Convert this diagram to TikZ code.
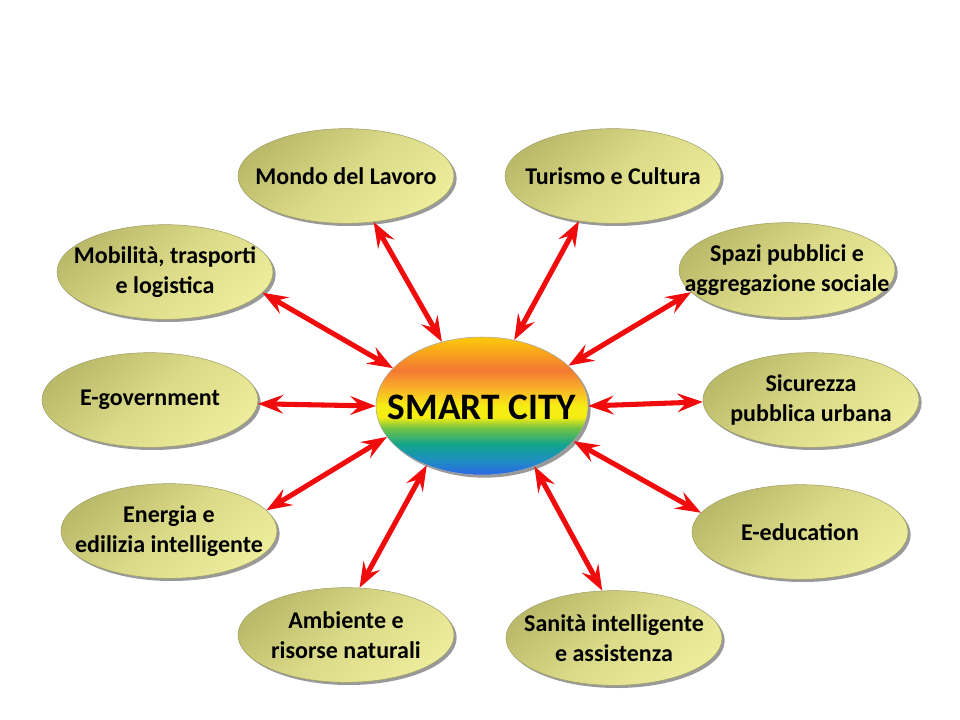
\documentclass[tikz,border=0pt]{standalone}
\usepackage{fontspec}
\setmainfont{Carlito}
\usetikzlibrary{arrows.meta,shapes.geometric,shadows}
\definecolor{satDark}{HTML}{BABA6A}
\definecolor{satMid}{HTML}{DADA88}
\definecolor{satLight}{HTML}{ECEC9C}
\definecolor{satEdge}{HTML}{A0A068}
\definecolor{linkRed}{HTML}{F00C0C}
\definecolor{rbBlue}{HTML}{2D66E6}
\definecolor{rbBlueB}{HTML}{1E8CC4}
\definecolor{rbTeal}{HTML}{12A48E}
\definecolor{rbGreen}{HTML}{70C244}
\definecolor{rbYellow}{HTML}{F6EE12}
\definecolor{rbYO}{HTML}{F9B428}
\definecolor{rbOrange}{HTML}{F47832}
\definecolor{rbGold}{HTML}{FDCA0A}
\pgfdeclareverticalshading{rainbow}{100bp}{color(0bp)=(rbBlue); color(25bp)=(rbBlue); color(30bp)=(rbBlueB); color(36bp)=(rbTeal); color(42bp)=(rbGreen); color(46bp)=(rbYellow); color(50bp)=(rbYellow); color(56bp)=(rbYO); color(63bp)=(rbOrange); color(75bp)=(rbGold); color(100bp)=(rbGold)}
\begin{document}
\begin{tikzpicture}[x=0.75pt,y=-0.75pt,
  sat/.style={ellipse, minimum width=162pt, minimum height=71pt, inner sep=0pt,
    top color=satDark, bottom color=satLight, middle color=satMid, shading angle=40,
    draw=satEdge, line width=0.4pt,
    drop shadow={shadow xshift=2pt, shadow yshift=-2pt, fill=black, opacity=0.4}},
  hub/.style={ellipse, minimum width=159pt, minimum height=103.5pt, inner sep=0pt,
    shading=rainbow, draw=gray!70, line width=0.4pt,
    drop shadow={shadow xshift=2pt, shadow yshift=-2pt, fill=black, opacity=0.4}},
  lbl/.style={align=center, font=\fontsize{18}{22}\selectfont\bfseries, text=black, inner sep=0pt},
  hublbl/.style={font=\fontsize{28}{33}\selectfont\bfseries, text=black, inner sep=0pt},
  link/.style={draw=linkRed, line width=3.8pt, {Stealth[length=19pt,width=14pt,inset=7pt]}-{Stealth[length=19pt,width=14pt,inset=7pt]}}
]
\fill[white] (0,0) rectangle (960,720);
\useasboundingbox (0,0) rectangle (960,720);

\node[hub] (city) at (482,406) {};
\node[hublbl] (cityT) at (482,407) {SMART CITY};

\node[sat] (mondo) at (346,176) {};
\node[lbl] (mondoT) at (mondo) {Mondo del Lavoro};
\node[sat] (turismo) at (613,176) {};
\node[lbl] (turismoT) at (turismo) {Turismo e Cultura};
\node[sat] (mobil) at (165,272) {};
\node[lbl] (mobilT) at (mobil) {Mobilità, trasporti\\e logistica};
\node[sat] (spazi) at (787,270) {};
\node[lbl] (spaziT) at (spazi) {Spazi pubblici e\\aggregazione sociale};
\node[sat] (egov) at (150,400) {};
\node[lbl] (egovT) at (egov) {E-government};
\node[sat] (sicur) at (811,400) {};
\node[lbl] (sicurT) at (sicur) {Sicurezza\\pubblica urbana};
\node[sat] (energia) at (169,531) {};
\node[lbl] (energiaT) at (energia) {Energia e\\edilizia intelligente};
\node[sat] (eedu) at (800,532) {};
\node[lbl] (eeduT) at (eedu) {E-education};
\node[sat] (ambiente) at (346,635) {};
\node[lbl] (ambienteT) at (ambiente) {Ambiente e\\risorse naturali};
\node[sat] (sanita) at (614,638) {};
\node[lbl] (sanitaT) at (sanita) {Sanità intelligente\\e assistenza};

\draw[link] (mondo.-59) -- (city.122);
\draw[link] (turismo.233) -- (city.64);
\draw[link] (mobil.-12) -- (city.157);
\draw[link] (spazi.193) -- (city.25);
\draw[link] (egov.-2.5) -- (city.180);
\draw[link] (sicur.181.5) -- (city.0.6);
\draw[link] (energia.12.7) -- (city.198.6);
\draw[link] (eedu.169.4) -- (city.-21.6);
\draw[link] (ambiente.74.4) -- (city.227.4);
\draw[link] (sanita.104.8) -- (city.-49.5);
\end{tikzpicture}
\end{document}
